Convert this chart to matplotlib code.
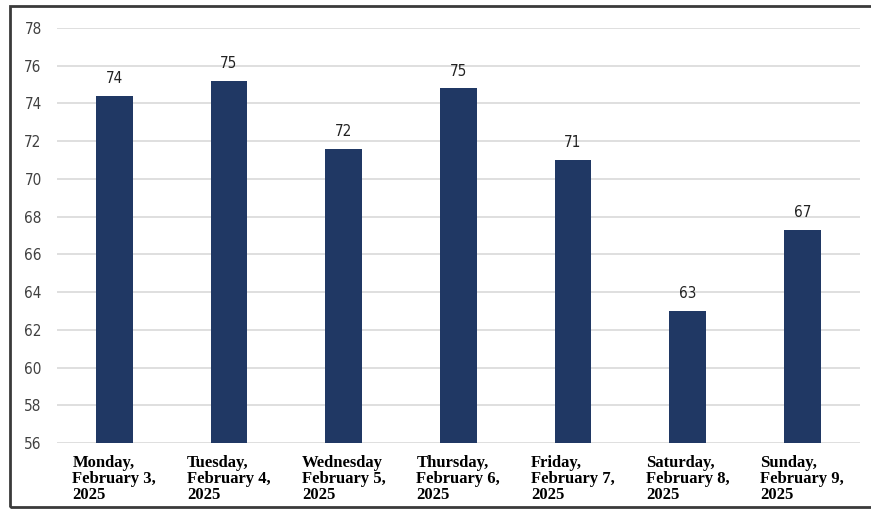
import matplotlib.pyplot as plt
from matplotlib.patches import Rectangle

days = ["Monday,\nFebruary 3,\n2025", "Tuesday,\nFebruary 4,\n2025", "Wednesday\nFebruary 5,\n2025",
        "Thursday,\nFebruary 6,\n2025", "Friday,\nFebruary 7,\n2025", "Saturday,\nFebruary 8,\n2025",
        "Sunday,\nFebruary 9,\n2025"]
values = [74.4, 75.2, 71.6, 74.8, 71.0, 63.0, 67.3]
labels = ["74", "75", "72", "75", "71", "63", "67"]
yticks = list(range(56, 79, 2))

fig = plt.figure(figsize=(8.71, 5.09), dpi=100)
ax = fig.add_axes([0.0654, 0.1297, 0.9216, 0.8153])

x = range(len(days))
ax.bar(x, values, width=0.32, color="#203864", zorder=3)
ax.set_ylim(56, 78)
ax.set_xlim(-0.5, len(days) - 0.5)
ax.set_yticks(yticks)
ax.set_yticklabels([str(t) for t in yticks], family="DejaVu Sans", fontstretch="condensed",
                   fontsize=11, color="#404040")
ax.set_xticks(list(x))
ax.set_xticklabels(days, family="Liberation Serif", fontweight="bold", fontsize=12,
                   ha="center", multialignment="left", linespacing=0.98)
ax.tick_params(axis="both", length=0)
ax.tick_params(axis="y", pad=11)
ax.tick_params(axis="x", pad=9)
ax.grid(axis="y", color="#d9d9d9", linewidth=1.2, zorder=0)
for s in ax.spines.values():
    s.set_visible(False)

for xi, v, lab in zip(x, values, labels):
    ax.annotate(lab, (xi, v), xytext=(0, 7), textcoords="offset points", ha="center", va="bottom",
                family="DejaVu Sans", fontstretch="condensed", fontsize=11, color="#222222")

# outer frame around the chart
fig.patches.append(Rectangle((0.012, 0.004), 0.99, 0.985, transform=fig.transFigure,
                             fill=False, edgecolor="#3a3a3a", linewidth=2))

fig.savefig("out.png", dpi=100)
